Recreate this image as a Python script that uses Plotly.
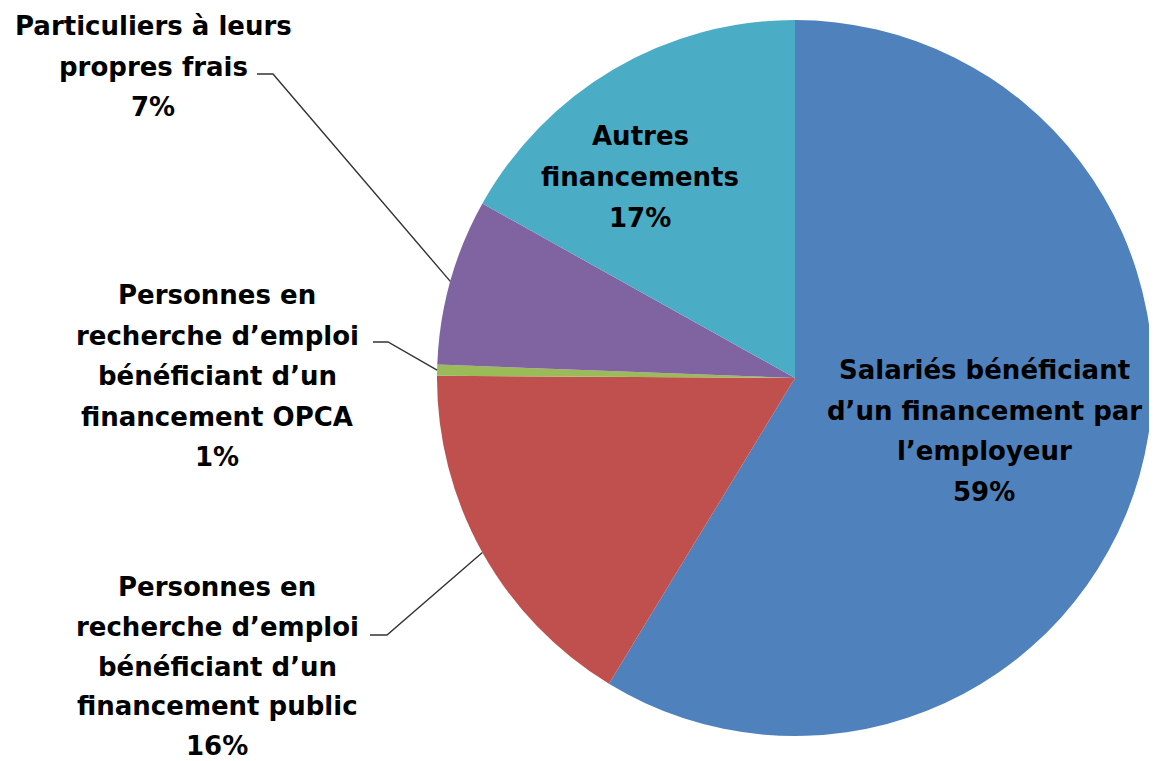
import plotly.graph_objects as go
import math

# ---- data ----
categories = [
    "Salariés bénéficiant d’un financement par l’employeur",
    "Personnes en recherche d’emploi bénéficiant d’un financement public",
    "Personnes en recherche d’emploi bénéficiant d’un financement OPCA",
    "Particuliers à leurs propres frais",
    "Autres financements",
]
values = [58.7, 16.4, 0.5, 7.5, 16.9]
pct_labels = ["59%", "16%", "1%", "7%", "17%"]
label_lines = [
    ["Salariés bénéficiant", "d’un financement par", "l’employeur"],
    ["Personnes en", "recherche d’emploi", "bénéficiant d’un", "financement public"],
    ["Personnes en", "recherche d’emploi", "bénéficiant d’un", "financement OPCA"],
    ["Particuliers à leurs", "propres frais"],
    ["Autres", "financements"],
]
colors = ["#4F81BD", "#C0504D", "#9BBB59", "#8064A2", "#4BACC6"]

# ---- layout (page pixels; page body has an 8px margin) ----
OFF = 8
W, H = 1157 - OFF, 761 - OFF
CX, CY, R = 795, 378, 358

def px(x):
    return (x - OFF) / W

def py(y):
    return 1 - (y - OFF) / H

fig = go.Figure()
fig.add_trace(go.Pie(
    labels=categories,
    values=values,
    sort=False,
    direction="clockwise",
    rotation=0,
    marker=dict(colors=colors, line=dict(width=0)),
    textinfo="none",
    hoverinfo="label+percent",
    showlegend=False,
    domain=dict(x=[px(CX - R), px(CX + R)], y=[py(CY + R), py(CY - R)]),
))

FONT = dict(family="DejaVu Sans", size=26, color="#000000")

# label block positions: (center x, first line center y, line pitch)
label_pos = [(984, 370, 40.7), (217, 587, 39.8), (217, 295, 40.5), (153, 26, 40.5), (640, 136, 41)]

annotations = []
for i, lines in enumerate(label_lines):
    x0, y0, pitch = label_pos[i]
    all_lines = lines + [pct_labels[i]]
    for k, t in enumerate(all_lines):
        annotations.append(dict(
            x=px(x0), y=py(y0 + k * pitch), xref="paper", yref="paper",
            text="<b>" + t + "</b>", showarrow=False,
            xanchor="center", yanchor="middle", font=FONT,
        ))

# leader lines for outside labels: stub, then to slice mid-angle on the edge
total = sum(values)
cum = 0
mids = []
for v in values:
    mids.append((cum + v / 2) / total * 2 * math.pi)
    cum += v

stubs = {1: (370, 387, 635), 2: (373, 388, 342), 3: (257, 273, 74)}
shapes = []
for i, (sx0, sx1, sy) in stubs.items():
    a = mids[i]
    ex = CX + R * math.sin(a)
    ey = CY - R * math.cos(a)
    path = "M {} {} L {} {} L {} {}".format(px(sx0), py(sy), px(sx1), py(sy), px(ex), py(ey))
    shapes.append(dict(type="path", path=path, xref="paper", yref="paper",
                       line=dict(color="#333333", width=1.4)))

fig.update_layout(
    width=W, height=H,
    margin=dict(l=0, r=0, t=0, b=0),
    paper_bgcolor="white",
    plot_bgcolor="white",
    annotations=annotations,
    shapes=shapes,
)

fig.write_html("out.html")
